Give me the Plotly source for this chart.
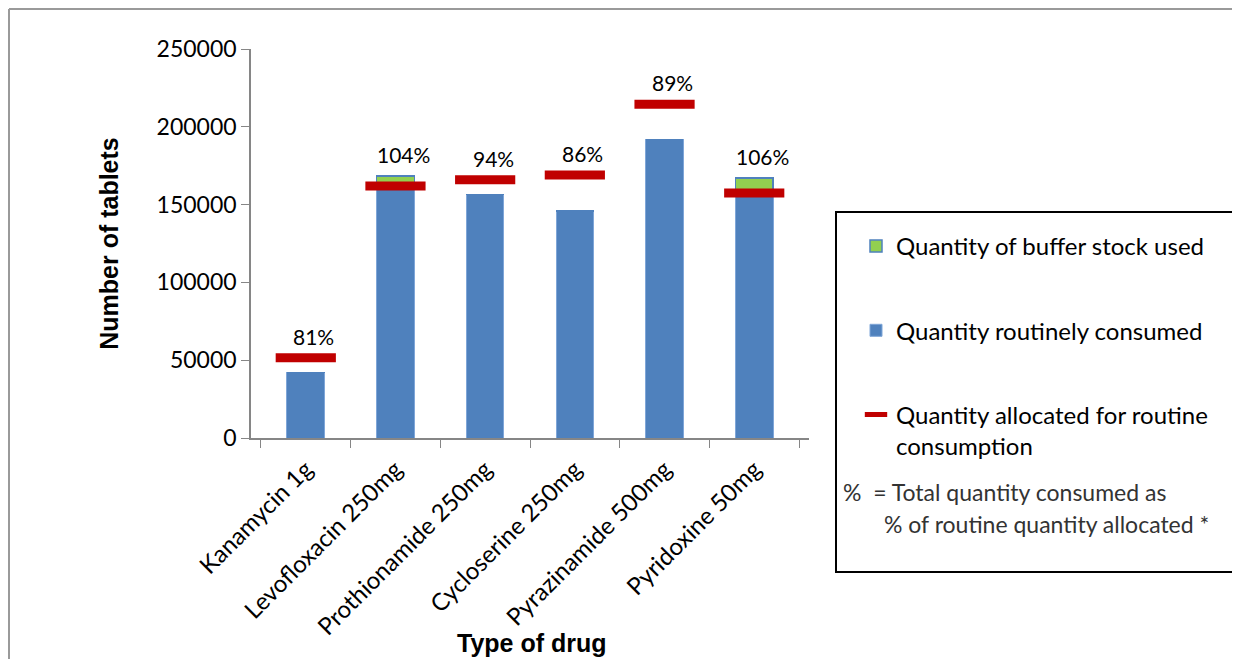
import plotly.graph_objects as go

# ---- data ----
drugs = ["Kanamycin 1g", "Levofloxacin 250mg", "Prothionamide 250mg",
         "Cycloserine 250mg", "Pyrazinamide 500mg", "Pyridoxine 50mg"]
routine_consumed = [42000, 162000, 156500, 146000, 192000, 157500]
buffer_used = [0, 6400, 0, 0, 0, 9500]
allocated = [51500, 162000, 166000, 169000, 214500, 157500]
pct_labels = ["81%", "104%", "94%", "86%", "89%", "106%"]
y_ticks = [0, 50000, 100000, 150000, 200000, 250000]

OFF = 8  # page body margin
W, H = 1240 - OFF, 659 - OFF
# plot area in screen px
SL, SR, ST, SB = 251, 809, 49, 438
L, R, T, B = SL - OFF, SR - OFF, ST - OFF, SB - OFF


def px(x):
    return (x - SL) / (SR - SL)


def py(y):
    return (SB - y) / (SB - ST)


FONT = "Lato"
BLUE = "#4F81BD"
GREEN = "#92D050"
RED = "#C00000"

fig = go.Figure()
fig.add_trace(go.Bar(
    x=drugs, y=routine_consumed, name="Quantity routinely consumed",
    marker=dict(color=BLUE, line=dict(color="#7FA6D8", width=1)),
    width=0.42, legendgroup="b", legendrank=2,
))
fig.add_trace(go.Bar(
    x=drugs, y=buffer_used, name="Quantity of buffer stock used",
    marker=dict(color=GREEN, line=dict(color=BLUE, width=1.5)),
    width=0.42, legendgroup="a", legendrank=1,
))
fig.add_trace(go.Scatter(
    x=drugs, y=allocated, mode="markers",
    name="Quantity allocated for routine<br>consumption",
    marker=dict(symbol="line-ew", size=43, color=RED,
                line=dict(color=RED, width=9)),
    legendgroup="c", legendrank=3,
))

annotations = []
for d, r, b, a, t in zip(drugs, routine_consumed, buffer_used, allocated, pct_labels):
    annotations.append(dict(
        x=d, y=max(r + b, a), xref="x", yref="y", text=t, showarrow=False,
        yanchor="bottom", xanchor="center", yshift=7, xshift=8,
        font=dict(family=FONT, size=21, color="black"),
    ))

annotations.append(dict(
    x=px(841), y=py(492), xref="paper", yref="paper", xanchor="left", yanchor="middle",
    text="%  = Total quantity consumed as", showarrow=False,
    font=dict(family=FONT, size=23, color="#333333"),
))
annotations.append(dict(
    x=px(882), y=py(524), xref="paper", yref="paper", xanchor="left", yanchor="middle",
    text="% of routine quantity allocated *", showarrow=False,
    font=dict(family=FONT, size=23, color="#333333"),
))
annotations.append(dict(
    x=px(532), y=py(643), xref="paper", yref="paper", xanchor="center", yanchor="middle",
    text="<b>Type of drug</b>", showarrow=False,
    font=dict(family="Liberation Sans", size=25, color="black"),
))

shapes = [
    dict(type="rect", xref="paper", yref="paper",
         x0=px(836), x1=px(1237), y0=py(572), y1=py(212),
         line=dict(color="black", width=2), fillcolor="rgba(0,0,0,0)"),
    dict(type="line", xref="paper", yref="paper",
         x0=px(9), x1=px(1250), y0=py(9), y1=py(9),
         line=dict(color="#9a9a9a", width=2)),
    dict(type="line", xref="paper", yref="paper",
         x0=px(9), x1=px(9), y0=py(9), y1=py(670),
         line=dict(color="#9a9a9a", width=2)),
]

fig.update_layout(
    width=W, height=H,
    margin=dict(l=L, r=W - R, t=T, b=H - B, autoexpand=False),
    paper_bgcolor="white", plot_bgcolor="white",
    barmode="stack", bargap=0.58,
    font=dict(family=FONT, size=22, color="black"),
    showlegend=True,
    legend=dict(
        x=px(856), y=py(224), xanchor="left", yanchor="top",
        traceorder="grouped", tracegroupgap=50, valign="top",
        font=dict(family=FONT, size=24, color="black"),
        bgcolor="rgba(0,0,0,0)", itemwidth=30,
    ),
    xaxis=dict(
        type="category", showline=True, linecolor="#868686", linewidth=1.5,
        ticks="outside", tickson="boundaries", ticklen=8, tickcolor="#868686",
        tickangle=-45, tickfont=dict(family=FONT, size=24, color="black"),
        ticklabelstandoff=6,
        showgrid=False, zeroline=False,
    ),
    yaxis=dict(
        range=[0, 250000], tickvals=y_ticks, ticktext=[str(v) for v in y_ticks],
        showline=True, linecolor="#868686", linewidth=1.5,
        ticks="outside", ticklen=8, tickcolor="#868686",
        tickfont=dict(family=FONT, size=23, color="black"),
        showgrid=False, zeroline=False,
        title=dict(text="<b>Number of tablets</b>", standoff=31,
                   font=dict(family="Liberation Sans", size=25, color="black")),
    ),
    annotations=annotations,
    shapes=shapes,
)

fig.write_html("out.html")
